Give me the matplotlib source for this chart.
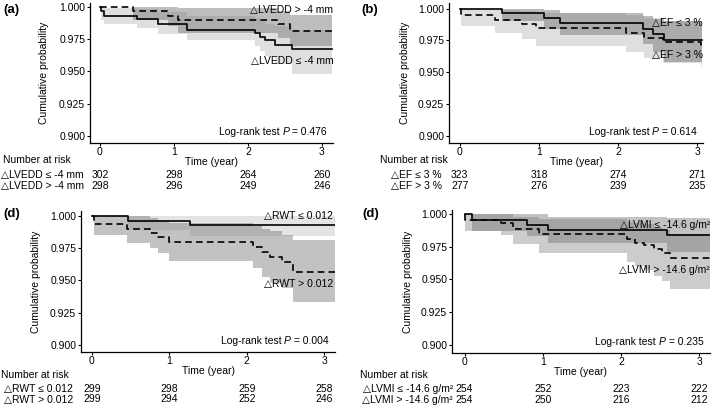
import matplotlib
matplotlib.use("Agg")
import matplotlib.pyplot as plt
import matplotlib.transforms as mtransforms

plt.rcParams['font.family'] = ['Liberation Sans', 'DejaVu Sans']
plt.rcParams['font.size'] = 7.5

# ---- panel (a): LVEDD ----
a_t_le = [0, 0.02, 0.06, 0.5, 0.79, 1.18, 2.09, 2.16, 2.23, 2.36, 2.59]
a_p_le = [1.0, 0.9966, 0.9933, 0.9906, 0.987, 0.9823, 0.9797, 0.977, 0.9745, 0.9705, 0.9672]
a_lo_le = [1.0, 0.990, 0.987, 0.984, 0.979, 0.974, 0.970, 0.966, 0.962, 0.956, 0.948]
a_hi_le = [1.0, 1.0, 0.999, 0.998, 0.996, 0.993, 0.991, 0.989, 0.987, 0.985, 0.982]
a_t_gt = [0, 0.45, 0.92, 1.06, 2.41, 2.57]
a_p_gt = [1.0, 0.9966, 0.9933, 0.9899, 0.9865, 0.9815]
a_lo_gt = [1.0, 0.990, 0.985, 0.980, 0.976, 0.970]
a_hi_gt = [1.0, 1.0, 1.0, 0.999, 0.997, 0.994]
a_risk_le = [302, 298, 264, 260]
a_risk_gt = [298, 296, 249, 246]

# ---- panel (b): EF ----
b_t_le = [0, 0.53, 1.07, 1.26, 2.31, 2.44, 2.58]
b_p_le = [1.0, 0.9966, 0.9927, 0.9887, 0.984, 0.980, 0.9755]
b_lo_le = [1.0, 0.990, 0.984, 0.979, 0.972, 0.966, 0.958]
b_hi_le = [1.0, 1.0, 0.999, 0.997, 0.994, 0.992, 0.990]
b_t_gt = [0, 0.02, 0.44, 0.79, 0.96, 2.10, 2.33, 2.57, 3.05]
b_p_gt = [1.0, 0.9953, 0.9913, 0.988, 0.9848, 0.981, 0.977, 0.9734, 0.9718]
b_lo_gt = [1.0, 0.986, 0.981, 0.976, 0.971, 0.966, 0.961, 0.957, 0.955]
b_hi_gt = [1.0, 1.0, 0.999, 0.998, 0.997, 0.995, 0.993, 0.990, 0.989]
b_risk_le = [323, 318, 274, 271]
b_risk_gt = [277, 276, 239, 235]

# ---- panel (c): RWT ----
c_t_le = [0, 0.46, 1.27]
c_p_le = [1.0, 0.9962, 0.9928]
c_lo_le = [1.0, 0.989, 0.984]
c_hi_le = [1.0, 1.0, 1.0]
c_t_gt = [0, 0.03, 0.45, 0.75, 0.85, 1.0, 2.08, 2.2, 2.3, 2.45, 2.6]
c_p_gt = [1.0, 0.9936, 0.9895, 0.9864, 0.9837, 0.9797, 0.976, 0.972, 0.9683, 0.9644, 0.9567]
c_lo_gt = [1.0, 0.985, 0.979, 0.975, 0.971, 0.965, 0.960, 0.953, 0.948, 0.944, 0.933]
c_hi_gt = [1.0, 1.0, 1.0, 0.998, 0.997, 0.994, 0.992, 0.990, 0.988, 0.985, 0.981]
c_risk_le = [299, 298, 259, 258]
c_risk_gt = [299, 294, 252, 246]

# ---- panel (d): LVMI ----
d_t_le = [0, 0.09, 0.8, 1.07, 2.59]
d_p_le = [1.0, 0.9954, 0.9916, 0.9878, 0.984]
d_lo_le = [1.0, 0.987, 0.983, 0.978, 0.971]
d_hi_le = [1.0, 1.0, 1.0, 0.998, 0.997]
d_t_gt = [0, 0.01, 0.46, 0.62, 0.95, 2.08, 2.18, 2.3, 2.42, 2.52, 2.63]
d_p_gt = [1.0, 0.9954, 0.9933, 0.9885, 0.9847, 0.9805, 0.978, 0.9763, 0.9735, 0.9704, 0.966]
d_lo_gt = [1.0, 0.987, 0.984, 0.977, 0.970, 0.963, 0.960, 0.957, 0.953, 0.949, 0.943]
d_hi_gt = [1.0, 1.0, 1.0, 0.998, 0.996, 0.994, 0.993, 0.992, 0.990, 0.988, 0.985]
d_risk_le = [254, 252, 223, 222]
d_risk_gt = [254, 250, 216, 212]

p_values = ['0.476', '0.614', '0.004', '0.235']
y_ticks = [0.900, 0.925, 0.950, 0.975, 1.000]
x_ticks = [0, 1, 2, 3]

W, H = 715, 409
fig = plt.figure(figsize=(W / 100, H / 100), dpi=100)


def fx(px):
    return px / W


def fy(py):
    return 1 - py / H


def extend(t, v, t_end):
    return list(t) + [t_end], list(v) + [v[-1]]


def draw_panel(box, xlim, ylim, t_end, le, gt, alphas, tag, lab_le, lab_gt,
               pos_le, pos_gt, ylab_off, risk):
    left, top, right, bottom = box
    ax = fig.add_axes([fx(left), fy(bottom), fx(right - left), (bottom - top) / H])

    # confidence bands
    for grp, a in zip((le, gt), alphas):
        t, p, lo, hi = grp
        tt, ll = extend(t, lo, t_end)
        _, hh = extend(t, hi, t_end)
        ax.fill_between(tt, ll, hh, step='post', color='#6e6e6e', alpha=a, lw=0)

    # survival curves
    tt, pp = extend(le[0], le[1], t_end)
    ax.step(tt, pp, where='post', color='black', lw=1.2)
    tt, pp = extend(gt[0], gt[1], t_end)
    ax.step(tt, pp, where='post', color='black', lw=1.2, ls=(0, (4, 2.5)))

    ax.set_xlim(*xlim)
    ax.set_ylim(*ylim)
    ax.set_xticks(x_ticks)
    ax.set_yticks(y_ticks)
    ax.set_yticklabels([f'{v:.3f}' for v in y_ticks])
    ax.tick_params(axis='x', length=2.5, width=0.8, pad=0.5, labelsize=7.5)
    ax.tick_params(axis='y', length=2.5, width=0.8, pad=1, labelsize=7.5)
    for s in ('top', 'right'):
        ax.spines[s].set_visible(False)
    for s in ('left', 'bottom'):
        ax.spines[s].set_linewidth(0.9)
    ax.set_ylabel('Cumulative probability', fontsize=7.5)
    ax.yaxis.set_label_coords(-ylab_off / (right - left), 0.5)
    ax.set_xlabel('Time (year)', fontsize=7.5, va='center')
    ax.xaxis.set_label_coords(0.5, -19 / (bottom - top))

    # group labels (pixel positions, right aligned)
    fig.text(fx(pos_le[0]), fy(pos_le[1]), lab_le, ha='right', va='center')
    fig.text(fx(pos_gt[0]), fy(pos_gt[1]), lab_gt, ha='right', va='center')

    fig.text(fx(tag[1]), fy(tag[2]), tag[0], fontsize=9.5, fontweight='bold',
             ha='left', va='center')

    # number at risk table
    title_xy, lab_right, row_y, r_le, r_gt = risk
    fig.text(fx(title_xy[0]), fy(title_xy[1]), 'Number at risk', ha='left', va='center')
    fig.text(fx(lab_right), fy(row_y[0]), lab_le, ha='right', va='center')
    fig.text(fx(lab_right), fy(row_y[1]), lab_gt, ha='right', va='center')
    trans = mtransforms.blended_transform_factory(ax.transData, fig.transFigure)
    for x, n1, n2 in zip(x_ticks, r_le, r_gt):
        fig.text(x, fy(row_y[0]), str(n1), transform=trans, ha='center', va='center')
        fig.text(x, fy(row_y[1]), str(n2), transform=trans, ha='center', va='center')
    return ax


def logrank(ax, pval):
    # "Log-rank test P = x" with italic P, built right to left
    t1 = ax.text(0.975, 0.08, ' = ' + pval, transform=ax.transAxes, ha='right', va='center')
    fig.canvas.draw()
    bb = t1.get_window_extent().transformed(ax.transAxes.inverted())
    t2 = ax.text(bb.x0, 0.08, 'P', transform=ax.transAxes, ha='right', va='center', style='italic')
    fig.canvas.draw()
    bb2 = t2.get_window_extent().transformed(ax.transAxes.inverted())
    ax.text(bb2.x0, 0.08, 'Log-rank test ', transform=ax.transAxes, ha='right', va='center')


ax_a = draw_panel((90, 3, 333, 143), (-0.135, 3.15), (0.8945, 1.003), 3.13,
                  (a_t_le, a_p_le, a_lo_le, a_hi_le), (a_t_gt, a_p_gt, a_lo_gt, a_hi_gt),
                  (0.22, 0.45), ('(a)', 3, 10),
                  '△LVEDD ≤ -4 mm', '△LVEDD > -4 mm', (334, 61), (333, 9.5), 41,
                  ((3, 160), 84, (175, 186), a_risk_le, a_risk_gt))
ax_b = draw_panel((449, 3, 703, 143), (-0.135, 3.07), (0.8942, 1.0045), 3.06,
                  (b_t_le, b_p_le, b_lo_le, b_hi_le), (b_t_gt, b_p_gt, b_lo_gt, b_hi_gt),
                  (0.45, 0.22), ('(b)', 361, 10),
                  '△EF ≤ 3 %', '△EF > 3 %', (703, 22.7), (703, 55), 39,
                  ((380, 160), 442, (175, 185.5), b_risk_le, b_risk_gt))
ax_c = draw_panel((81, 211, 335, 352), (-0.142, 3.14), (0.8948, 1.0036), 3.14,
                  (c_t_le, c_p_le, c_lo_le, c_hi_le), (c_t_gt, c_p_gt, c_lo_gt, c_hi_gt),
                  (0.18, 0.42), ('(d)', 3, 214),
                  '△RWT ≤ 0.012', '△RWT > 0.012', (333, 216.5), (333, 284), 40,
                  ((1, 375), 73, (389, 399.5), c_risk_le, c_risk_gt))
ax_d = draw_panel((452, 210, 710, 353), (-0.161, 3.14), (0.8939, 1.003), 3.14,
                  (d_t_le, d_p_le, d_lo_le, d_hi_le), (d_t_gt, d_p_gt, d_lo_gt, d_hi_gt),
                  (0.42, 0.35), ('(d)', 362, 214),
                  '△LVMI ≤ -14.6 g/m²', '△LVMI > -14.6 g/m²', (710, 225), (710, 270), 39,
                  ((360, 375), 453, (389, 400), d_risk_le, d_risk_gt))

for ax, pv in zip((ax_a, ax_b, ax_c, ax_d), p_values):
    logrank(ax, pv)

fig.savefig('out.png', dpi=100)
